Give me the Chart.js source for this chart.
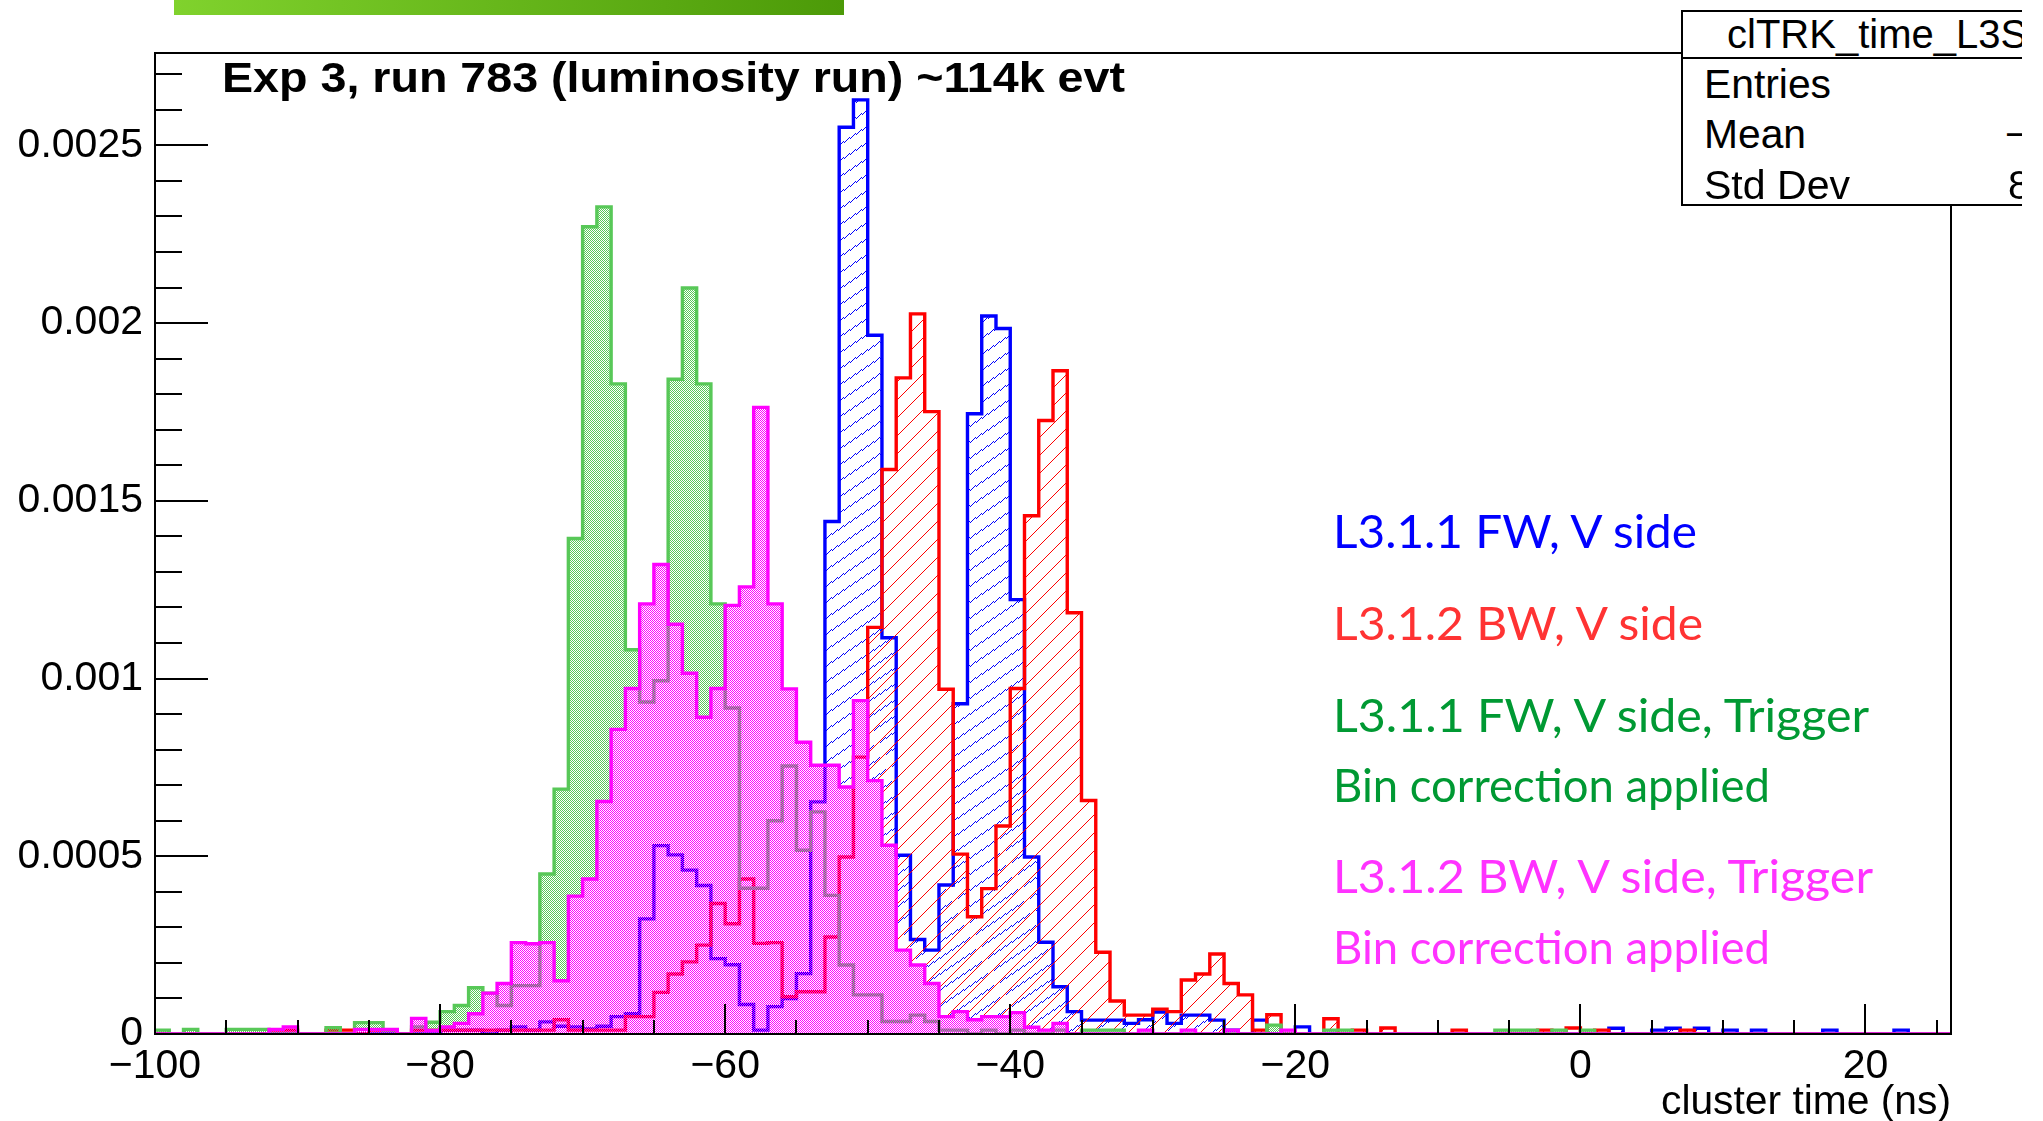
<!DOCTYPE html>
<html><head><meta charset="utf-8">
<script src="https://cdn.jsdelivr.net/npm/chart.js@4.4.1/dist/chart.umd.min.js"></script>
<style>
html,body{margin:0;padding:0;background:#fff;}
body{width:2043px;height:1121px;overflow:hidden;position:relative;}
#c{position:absolute;left:0;top:0;}
#bar{position:absolute;left:174px;top:0;width:670px;height:15px;background:linear-gradient(90deg,#80d22d,#4c9a08);}
#stats{position:absolute;left:1681px;top:10px;width:420px;height:196px;border:2px solid #000;box-sizing:border-box;background:#fff;z-index:3;}
#sep{position:absolute;left:1681px;top:57px;width:420px;height:2px;background:#000;z-index:4;}
#cut{position:absolute;left:2022px;top:0;width:40px;height:215px;background:#fff;z-index:8;}
</style></head><body>
<canvas id="c" width="2043" height="1121"></canvas>
<div id="bar"></div><div id="stats"></div><div id="sep"></div><div id="cut"></div>
<script>
// ---- data: 1 ns bins, left edges from -100 to 25 (values in units of 1e-6) ----
const binStart = -100, binWidth = 1, xMax = 26;
const UNIT = 1e-6;
const blueFW = [
  0,0,0,0,0,0,0,0,0,0,
  0,0,0,0,0,0,0,0,0,0,
  11,11,11,0,11,20,11,34,22,20,
  14,22,49,57,324,530,504,461,418,212,
  195,83,11,77,100,170,653,1442,2551,2628,
  1966,1115,503,266,236,419,929,1745,2020,1985,
  1222,498,258,133,63,39,39,39,30,40,
  62,30,53,53,39,11,0,39,0,0,
  20,0,0,0,0,0,0,0,0,0,
  0,0,0,0,0,0,0,0,0,0,
  0,0,16,0,0,11,16,0,16,0,
  11,0,11,0,0,0,0,11,0,0,
  0,0,11,0,0,0];
const redBW = [
  0,0,0,0,0,0,0,0,11,11,
  0,0,11,11,0,11,11,0,11,11,
  11,11,11,11,11,11,11,11,40,11,
  11,11,11,49,49,117,169,203,250,367,
  310,436,255,257,105,119,119,273,498,779,
  1144,1588,1846,2026,1751,970,506,330,409,585,
  972,1458,1726,1866,1185,657,230,93,53,53,
  70,63,152,169,225,142,110,11,54,0,
  0,0,43,0,11,0,17,0,0,0,
  0,11,0,0,0,0,0,11,0,17,
  0,11,0,0,0,0,0,11,0,0,
  0,0,0,0,0,0,0,0,0,0,
  0,0,0,0,0,0];
const greenFWtrig = [
  11,0,13,0,0,13,13,13,0,0,
  0,0,18,0,32,32,11,0,20,33,
  63,80,130,115,80,136,136,450,689,1394,
  2271,2327,1829,1081,934,994,1842,2099,1829,1210,
  917,410,410,600,754,517,625,390,194,110,
  110,35,35,53,35,11,11,0,11,0,
  11,0,0,11,0,11,11,11,0,0,
  0,0,0,0,0,0,0,0,25,0,
  0,0,11,11,0,0,0,0,0,0,
  0,0,0,0,11,11,11,0,11,0,
  11,0,0,0,0,0,0,0,0,0,
  0,0,0,0,0,0,0,0,0,0,
  0,0,0,0,0,0];
const magentaBWtrig = [
  0,0,0,0,0,0,0,0,13,20,
  0,0,0,0,13,13,13,0,44,10,
  20,30,57,115,142,257,254,257,150,388,
  436,654,857,972,1210,1321,1153,1015,891,972,
  1206,1258,1763,1210,971,821,756,756,695,938,
  713,531,236,194,142,49,63,40,49,49,
  60,19,11,30,0,0,0,0,0,11,
  0,0,11,0,0,11,0,0,0,11,
  0,0,0,0,0,0,0,0,0,0,
  0,0,0,0,0,0,0,0,0,0,
  0,0,0,0,0,0,0,0,0,0,
  0,0,0,0,0,0,0,0,0,0,
  0,0,0,0,0,0];
const seriesNames = ['L3.1.1 FW, V side','L3.1.2 BW, V side','L3.1.1 FW, V side, Trigger','L3.1.2 BW, V side, Trigger'];
const yMax = 0.00276;
const xTickStep = 20, xMinorStep = 5, yTickStep = 0.0005, yMinorStep = 0.0001;

function toPoints(vals){
  const pts = vals.map((v,i)=>({x: binStart + i*binWidth, y: v*UNIT}));
  pts.push({x: xMax, y: vals[vals.length-1]*UNIT});
  return pts;
}

const canvas = document.getElementById('c');
const ctx = canvas.getContext('2d');

// fine dot fill (ROOT style 3001-like): pixels with even x+y
function dotPattern(color){
  const c=document.createElement('canvas'); c.width=2; c.height=2;
  const g=c.getContext('2d'); g.fillStyle=color; g.fillRect(0,0,1,1); g.fillRect(1,1,1,1);
  return ctx.createPattern(c,'repeat');
}
// 1-px hatch lines rising to the right, drawn only on even x+y pixels
function pixelHatch(color, slope, W, H){
  const c=document.createElement('canvas'); c.width=W; c.height=H;
  const g=c.getContext('2d'); g.fillStyle=color;
  for(let x=0;x<W;x++){
    const yf=-slope*x; let y=Math.round(yf);
    if((((x+y)%2)+2)%2!==0){ y = (yf>y) ? y+1 : y-1; }
    g.fillRect(x, ((y%H)+H)%H, 1, 1);
  }
  return ctx.createPattern(c,'repeat');
}
const minus = v => v<0 ? '\u2212'+Math.abs(v) : String(v);

const framePlugin = {
  id:'frame',
  afterDatasetsDraw(chart){
    const {ctx, chartArea:a, scales:{x,y}} = chart;
    ctx.save();
    ctx.strokeStyle='#000'; ctx.lineWidth=2;
    ctx.strokeRect(a.left, a.top, a.right-a.left, a.bottom-a.top);
    ctx.beginPath();
    const nY = Math.floor(yMax/yMinorStep+1e-6);
    for(let k=0;k<=nY;k++){
      const v=k*yMinorStep, py=Math.round(y.getPixelForValue(v));
      const major = k % Math.round(yTickStep/yMinorStep) === 0;
      ctx.moveTo(a.left, py); ctx.lineTo(a.left+(major?53:27), py);
    }
    for(let v=binStart; v<=xMax+1e-9; v+=xMinorStep){
      const px=Math.round(x.getPixelForValue(v));
      const major = Math.abs(v % xTickStep) < 1e-9;
      ctx.moveTo(px, a.bottom); ctx.lineTo(px, a.bottom-(major?30:14));
    }
    ctx.stroke();
    ctx.restore();
  }
};

const tickFont = {family:'Liberation Sans', size:41};
new Chart(ctx, {
  type:'line',
  data:{datasets:[
    {label:seriesNames[3], data:toPoints(magentaBWtrig), borderColor:'#ff00ff', backgroundColor:dotPattern('#ff00ff'), fill:'origin'},
    {label:seriesNames[2], data:toPoints(greenFWtrig), borderColor:'#58c858', backgroundColor:dotPattern('#58c858'), fill:'origin'},
    {label:seriesNames[1], data:toPoints(redBW), borderColor:'#ff0000', backgroundColor:pixelHatch('#ff0000',1,18,18), fill:'origin'},
    {label:seriesNames[0], data:toPoints(blueFW), borderColor:'#0000ff', backgroundColor:pixelHatch('#0000ff',2/3,24,16), fill:'origin'}
  ]},
  options:{
    responsive:false, animation:false, devicePixelRatio:1,
    layout:{padding:{left:0, top:53, right:92, bottom:0}},
    elements:{line:{stepped:true, borderWidth:3.4, tension:0, borderJoinStyle:'miter', borderCapStyle:'butt'}, point:{radius:0}},
    plugins:{legend:{display:false}, tooltip:{enabled:false}},
    scales:{
      x:{type:'linear', min:binStart, max:xMax,
         grid:{display:false, drawTicks:false}, border:{display:false},
         ticks:{stepSize:xTickStep, includeBounds:false, autoSkip:false, maxRotation:0, padding:8, color:'#000', font:tickFont, callback:v=>minus(v)},
         afterFit:s=>{s.height=87;}},
      y:{type:'linear', min:0, max:yMax,
         grid:{display:false, drawTicks:false}, border:{display:false},
         ticks:{stepSize:yTickStep, includeBounds:false, autoSkip:false, padding:12, color:'#000', font:tickFont, callback:v=> v===0?'0':String(+v.toFixed(4))},
         afterFit:s=>{s.width=155;}}
    }
  },
  plugins:[framePlugin]
});

// ---- text overlays ----
function place(txt, o){
  const el=document.createElement('div');
  el.textContent=txt;
  el.style.cssText=`position:absolute;white-space:nowrap;left:0;top:0;font-family:${o.font};font-size:${o.size}px;font-weight:${o.weight||400};color:${o.color||'#000'};line-height:1;transform-origin:0 0;z-index:6;`;
  const probe=document.createElement('span');
  probe.style.cssText='display:inline-block;width:0;height:0;vertical-align:baseline;';
  el.appendChild(probe);
  document.body.appendChild(el);
  const r=el.getBoundingClientRect();
  const w=r.width, base=probe.getBoundingClientRect().top-r.top;
  const sx = o.width ? o.width/w : (o.sx||1);
  const left = o.align==='right' ? o.x - w*sx : o.x;
  el.style.left=left+'px';
  el.style.top=(o.baseline-base)+'px';
  el.style.transform=`scaleX(${sx})`;
}
place('Exp 3, run 783 (luminosity run) ~114k evt',{font:'Liberation Sans',weight:700,size:42,x:222,baseline:92,width:903});
const legFont='Lato', legSize=46, legX=1333;
place(seriesNames[0],{font:legFont,size:legSize,color:'#0000ff',x:legX,baseline:548,width:364});
place(seriesNames[1],{font:legFont,size:legSize,color:'#ff3333',x:legX,baseline:640,width:370});
place(seriesNames[2],{font:legFont,size:legSize,color:'#009933',x:legX,baseline:732,width:536});
place('Bin correction applied',{font:legFont,size:legSize,color:'#009933',x:legX,baseline:802,width:437});
place(seriesNames[3],{font:legFont,size:legSize,color:'#ff33ff',x:legX,baseline:893,width:540});
place('Bin correction applied',{font:legFont,size:legSize,color:'#ff33ff',x:legX,baseline:964,width:437});
place('cluster time (ns)',{font:'Liberation Sans',size:40,x:1951,baseline:1114,width:290,align:'right'});
place('clTRK_time_L3S',{font:'Liberation Sans',size:40,x:1727,baseline:48});
place('Entries',{font:'Liberation Sans',size:40,x:1704,baseline:98,width:127});
place('Mean',{font:'Liberation Sans',size:40,x:1704,baseline:148,width:102});
place('Std Dev',{font:'Liberation Sans',size:40,x:1704,baseline:199,width:146});
place('\u2212',{font:'Liberation Sans',size:40,x:2005,baseline:148});
place('8',{font:'Liberation Sans',size:40,x:2008,baseline:199});
</script></body></html>
